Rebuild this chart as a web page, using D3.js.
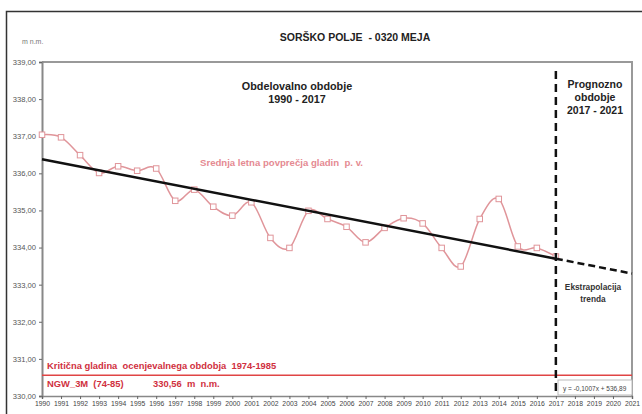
<!DOCTYPE html>
<html>
<head>
<meta charset="utf-8">
<script src="https://cdn.jsdelivr.net/npm/d3@7"></script>
<style>
  body { margin: 0; background: #fff; }
  text { font-family: Arial, "Liberation Sans", sans-serif; white-space: pre; }
</style>
</head>
<body>
<script>
// mean yearly groundwater level, SORSKO POLJE 0320 MEJA
var years = d3.range(1990, 2018);
var levels = [337.04, 336.97, 336.49, 336.01, 336.19, 336.07, 336.13, 335.26, 335.56, 335.10,
              334.86, 335.22, 334.26, 333.99, 334.99, 334.77, 334.56, 334.14, 334.53, 334.79,
              334.65, 333.99, 333.49, 334.77, 335.31, 334.03, 333.99, 333.76];
var trendYears = [1990, 2017, 2021];
var trendLevels = [336.38, 333.70, 333.30];
var criticalLevel = 330.56;
var xTicks = d3.range(1990, 2022);
var yTicks = [330, 331, 332, 333, 334, 335, 336, 337, 338, 339];

var W = 642, H = 414;
var pL = 42, pR = 632, pT = 62, pB = 396;

var svg = d3.select("body").append("svg")
  .attr("width", W)
  .attr("height", H);

// outer frame
svg.append("path")
  .attr("d", "M6.5," + (H + 2) + "V11.5H" + (W + 2))
  .style("fill", "none")
  .style("stroke", "#333")
  .style("stroke-width", 1.5);

var x = d3.scaleLinear().domain([1990, 2021]).range([pL, pR]);
var y = d3.scaleLinear().domain([330, 339]).range([pB, pT]);

// plot frame (top + right)
svg.append("path")
  .attr("d", "M" + pL + "," + pT + "H" + pR + "V" + pB)
  .style("fill", "none")
  .style("stroke", "#999")
  .style("stroke-width", 2);

var fmt = function(d) { return d3.format(".2f")(d).replace(".", ","); };

var yAxis = svg.append("g")
  .attr("transform", "translate(" + pL + ",0)")
  .call(d3.axisLeft(y).tickValues(yTicks).tickFormat(fmt).tickSize(3).tickPadding(3));
yAxis.select(".domain").style("stroke", "#888").style("stroke-width", 2);
yAxis.selectAll(".tick line").style("stroke", "#666");
yAxis.selectAll("text").style("font-size", "7.6px").style("fill", "#555");

var xAxis = svg.append("g")
  .attr("transform", "translate(0," + pB + ")")
  .call(d3.axisBottom(x).tickValues(xTicks).tickFormat(d3.format("d")).tickSize(3).tickPadding(2));
xAxis.select(".domain").style("stroke", "#888").style("stroke-width", 1.5);
xAxis.selectAll(".tick line").style("stroke", "#666");
xAxis.selectAll("text").style("font-size", "6.8px").style("fill", "#444");

// titles
svg.append("text").attr("x", 355).attr("y", 41).attr("text-anchor", "middle")
  .style("font-size", "10.5px").style("font-weight", "bold").style("fill", "#222")
  .text("SORŠKO POLJE  - 0320 MEJA");
svg.append("text").attr("x", 22).attr("y", 44)
  .style("font-size", "7px").style("fill", "#777").text("m n.m.");

svg.append("text").attr("x", 297).attr("y", 90).attr("text-anchor", "middle")
  .style("font-size", "10.8px").style("font-weight", "bold").style("fill", "#222")
  .text("Obdelovalno obdobje");
svg.append("text").attr("x", 297).attr("y", 103).attr("text-anchor", "middle")
  .style("font-size", "10.8px").style("font-weight", "bold").style("fill", "#222")
  .text("1990 - 2017");

["Prognozno", "obdobje", "2017 - 2021"].forEach(function(t, i) {
  svg.append("text").attr("x", 595).attr("y", 88 + i * 13).attr("text-anchor", "middle")
    .style("font-size", "10.5px").style("font-weight", "bold").style("fill", "#222").text(t);
});
["Ekstrapolacija", "trenda"].forEach(function(t, i) {
  svg.append("text").attr("x", 593).attr("y", 290 + i * 12).attr("text-anchor", "middle")
    .style("font-size", "8.3px").style("font-weight", "bold").style("fill", "#333").text(t);
});

// critical level
svg.append("line")
  .attr("x1", pL).attr("x2", pR)
  .attr("y1", y(criticalLevel)).attr("y2", y(criticalLevel))
  .style("stroke", "#e04444").style("stroke-width", 1.5);
svg.append("text").attr("x", 47).attr("y", 369)
  .style("font-size", "9.4px").style("font-weight", "bold").style("fill", "#d03040")
  .text("Kritična gladina  ocenjevalnega obdobja  1974-1985");
svg.append("text").attr("x", 47).attr("y", 387)
  .style("font-size", "9.4px").style("font-weight", "bold").style("fill", "#d03040")
  .text("NGW_3M  (74-85)");
svg.append("text").attr("x", 153).attr("y", 387)
  .style("font-size", "9.4px").style("font-weight", "bold").style("fill", "#d03040")
  .text("330,56  m  n.m.");

// data series
var line = d3.line()
  .x(function(d, i) { return x(years[i]); })
  .y(function(d) { return y(d); })
  .curve(d3.curveCardinal.tension(0));

svg.append("path")
  .datum(levels)
  .attr("d", line)
  .style("fill", "none")
  .style("stroke", "#e0959a")
  .style("stroke-width", 1.5);

svg.selectAll("rect.pt")
  .data(levels)
  .enter().append("rect")
  .attr("class", "pt")
  .attr("x", function(d, i) { return x(years[i]) - 2.75; })
  .attr("y", function(d) { return y(d) - 2.75; })
  .attr("width", 5.5)
  .attr("height", 5.5)
  .style("fill", "#fff")
  .style("stroke", "#e0959a")
  .style("stroke-width", 1);

svg.append("text").attr("x", 200).attr("y", 166)
  .style("font-size", "9.6px").style("font-weight", "bold").style("fill", "#e58a92")
  .text("Srednja letna povprečja gladin  p. v.");

// trend
svg.append("line")
  .attr("x1", x(trendYears[0])).attr("y1", y(trendLevels[0]))
  .attr("x2", x(trendYears[1])).attr("y2", y(trendLevels[1]))
  .style("stroke", "#111").style("stroke-width", 2.5);
svg.append("line")
  .attr("x1", x(trendYears[1])).attr("y1", y(trendLevels[1]))
  .attr("x2", x(trendYears[2])).attr("y2", y(trendLevels[2]))
  .style("stroke", "#111").style("stroke-width", 2.5)
  .style("stroke-dasharray", "7,4");

// 2017 divider
svg.append("line")
  .attr("x1", x(2017)).attr("x2", x(2017))
  .attr("y1", 71).attr("y2", pB)
  .style("stroke", "#111").style("stroke-width", 2.5)
  .style("stroke-dasharray", "8,5");

// equation box
svg.append("rect")
  .attr("x", 558).attr("y", 380).attr("width", 74).attr("height", 15)
  .style("fill", "#fff").style("stroke", "#bbb");
svg.append("text").attr("x", 563).attr("y", 391)
  .style("font-size", "6.5px").style("fill", "#444")
  .text("y = -0,1007x + 536,89");
</script>
</body>
</html>
